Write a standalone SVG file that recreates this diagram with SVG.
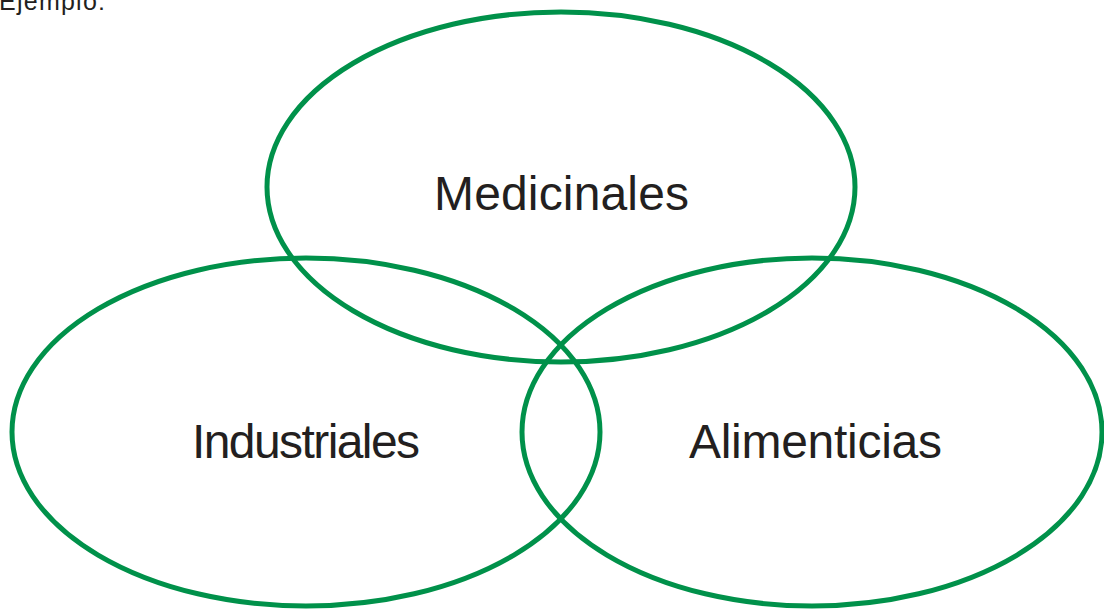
<svg xmlns="http://www.w3.org/2000/svg" width="1104" height="610" viewBox="0 0 1104 610">
<style>
.ring{fill:none;stroke:#00914a;stroke-width:5}
.lbl{font-family:"Liberation Sans",Arial,sans-serif;fill:#231f20;font-size:48px}
</style>
<rect width="1104" height="610" fill="#fff"/>
<text x="-1" y="10" class="lbl" style="font-size:25px" textLength="106">Ejemplo:</text>
<g id="medicinales">
<ellipse class="ring" cx="561" cy="187" rx="294" ry="175"/>
<text class="lbl" x="434" y="210" textLength="255">Medicinales</text>
</g>
<g id="industriales">
<ellipse class="ring" cx="306" cy="432" rx="294" ry="174"/>
<text class="lbl" x="192" y="458" textLength="228">Industriales</text>
</g>
<g id="alimenticias">
<ellipse class="ring" cx="812" cy="432" rx="290" ry="174"/>
<text class="lbl" x="689" y="458" textLength="253">Alimenticias</text>
</g>
<g id="connectors"/>
</svg>
